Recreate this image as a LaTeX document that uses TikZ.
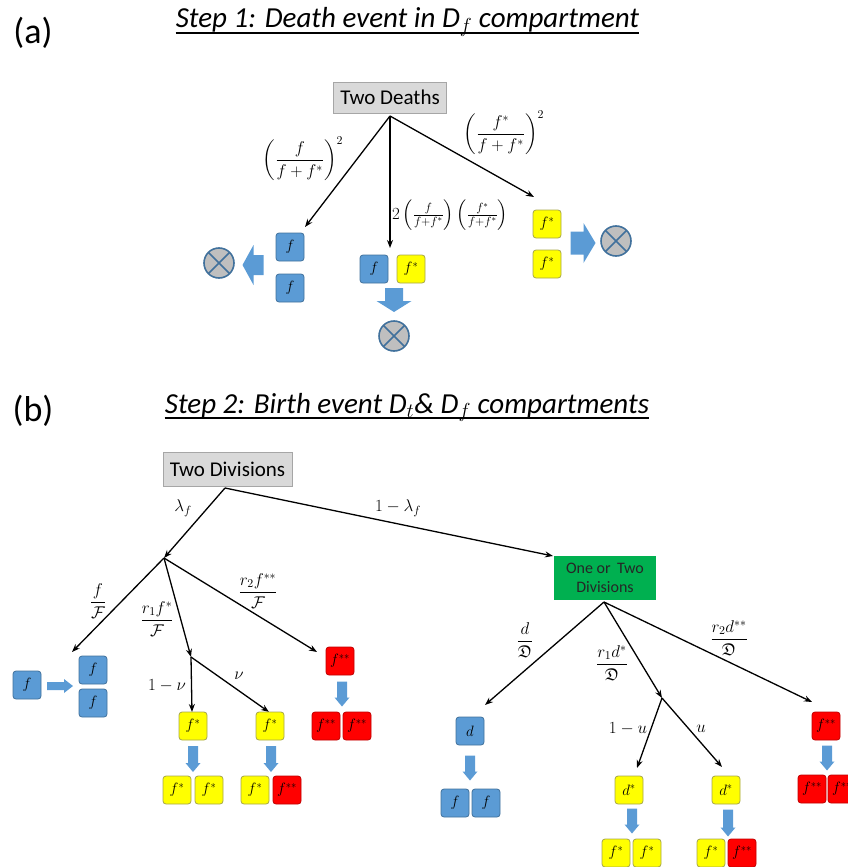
\RequirePackage{fix-cm}
\documentclass[tikz,border=0pt]{standalone}
\usepackage{amssymb}
\usepackage{fontspec}
\setmainfont{Carlito}
\usetikzlibrary{arrows.meta}
\definecolor{cblue}{HTML}{5B9BD5}
\definecolor{cblueB}{HTML}{41719C}
\definecolor{cyel}{HTML}{FFFF00}
\definecolor{cyelB}{HTML}{A6A64A}
\definecolor{cred}{HTML}{FF0000}
\definecolor{credB}{HTML}{C00000}
\definecolor{cgreen}{HTML}{00B050}
\definecolor{cgray}{HTML}{D9D9D9}
\definecolor{cgrayB}{HTML}{A6A6A6}
\definecolor{xgray}{HTML}{BFBFBF}
\newcommand\blockarr[6]{\fill[cblue,shift={(#1)},rotate=#2] (-#3/2,-#5) -- (#3/2-#4,-#5) -- (#3/2-#4,-#6) -- (#3/2,0) -- (#3/2-#4,#6) -- (#3/2-#4,#5) -- (-#3/2,#5) -- cycle;}
\tikzset{
  cell/.style={rounded corners=3pt, minimum width=28pt, minimum height=28pt, inner sep=0pt, line width=0.8pt, font=\fontsize{15}{15}\selectfont},
  bcell/.style={cell, fill=cblue, draw=cblueB},
  ycell/.style={cell, fill=cyel, draw=cyelB},
  rcell/.style={cell, fill=cred, draw=credB},
  killnode/.style={circle, minimum size=30pt, inner sep=0pt, fill=xgray, draw=cblueB, line width=1.6pt,
    path picture={\draw[cblueB, line width=1.6pt] (path picture bounding box.north west) -- (path picture bounding box.south east) (path picture bounding box.north east) -- (path picture bounding box.south west);}},
  branch/.style={line width=1.3pt, -{Stealth[length=8pt,width=6pt]}},
  lab/.style={inner sep=0pt, font=\fontsize{17}{20}\selectfont},
  ttl/.style={inner sep=0pt, font=\fontsize{29}{34}\selectfont\itshape},
  graybox/.style={fill=cgray, draw=cgrayB, line width=0.8pt, inner sep=0pt, font=\fontsize{21}{25}\selectfont},
}
\begin{document}
\begin{tikzpicture}[x=1pt,y=-1pt]
\useasboundingbox (0,0) rectangle (847,867);
% ---------- (a) ----------
\node[inner sep=0pt, font=\fontsize{36}{42}\selectfont] (la) at (33,33) {(a)};
\node[ttl, anchor=base] (t1) at (407.5,28) {Step 1: Death event in D$_f$ compartment};
\draw[line width=1.6pt] ([yshift=-5pt]t1.base west) -- ([yshift=-5pt]t1.base east);

\node[graybox, minimum width=113pt, minimum height=31pt] (TD) at (390,97.5) {Two Deaths};
\coordinate (a0) at (390,116);
\coordinate (aL) at (305,227);
\coordinate (aM) at (390,248);
\coordinate (aR) at (534,197);
\draw[branch] (a0) -- (aL);
\draw[branch] (a0) -- (aM);
\draw[branch] (a0) -- (aR);
\node[lab] (pL) at (303,159) {$\displaystyle\left(\frac{f}{f+f^{*}}\right)^{2}$};
\node[lab] (pR) at (504,133) {$\displaystyle\left(\frac{f^{*}}{f+f^{*}}\right)^{2}$};
\node[lab] (pM) at (450,215) {$2\left(\frac{f}{f+f^{*}}\right)\left(\frac{f^{*}}{f+f^{*}}\right)$};

\node[bcell] (a1) at (290,247) {$f$};
\node[bcell] (a2) at (290,288) {$f$};
\node[bcell] (a3) at (374,269) {$f$};
\node[ycell] (a4) at (411,269) {$f^{*}$};
\node[ycell] (a5) at (547,224) {$f^{*}$};
\node[ycell] (a6) at (547,264) {$f^{*}$};
\blockarr{253,265}{180}{21}{11}{10}{20}
\blockarr{394,300}{-90}{24}{11}{9}{17.5}
\blockarr{583,243}{0}{25}{12}{11.5}{20}
\node[killnode] (c1) at (219,263) {};
\node[killnode] (c2) at (394,336) {};
\node[killnode] (c3) at (616,241) {};

% ---------- (b) ----------
\node[inner sep=0pt, font=\fontsize{36}{42}\selectfont] (lb) at (33,411) {(b)};
\node[ttl, anchor=base] (t2) at (407,413) {Step 2: Birth event D$_t$\& D$_f$ compartments};
\draw[line width=1.6pt] ([yshift=-5pt]t2.base west) -- ([yshift=-5pt]t2.base east);

\node[graybox, minimum width=129pt, minimum height=34pt] (TDv) at (227.5,469) {Two Divisions};
\node[fill=cgreen, inner sep=0pt, minimum width=102pt, minimum height=44pt, align=center,
      font=\fontsize{16}{19}\selectfont, text=black!85] (G) at (605,578) {One or\, Two\\Divisions};
\coordinate (b0) at (225,488);
\coordinate (bL) at (164,558);
\coordinate (gIn) at (553,556);
\draw[branch] (b0) -- (bL);
\draw[branch] (b0) -- (gIn);
\node[lab] (l1) at (183,508) {$\lambda_f$};
\node[lab] (l2) at (398,508) {$1-\lambda_f$};

% left subtree
\coordinate (bLL) at (72,652);
\coordinate (bM) at (191,657);
\coordinate (bR) at (317,652);
\draw[branch] (bL) -- (bLL);
\draw[branch] (bL) -- (bM);
\draw[branch] (bL) -- (bR);
\coordinate (bM1) at (192,712);
\coordinate (bM2) at (269,712);
\draw[branch] (bM) -- (bM1);
\draw[branch] (bM) -- (bM2);
\node[lab] (q1) at (98,601) {$\displaystyle\frac{f}{\mathcal{F}}$};
\node[lab] (q2) at (157,619) {$\displaystyle\frac{r_1f^{*}}{\mathcal{F}}$};
\node[lab] (q3) at (258,591) {$\displaystyle\frac{r_2f^{**}}{\mathcal{F}}$};
\node[lab] (q4) at (167,686) {$1-\nu$};
\node[lab] (q5) at (239,676) {$\nu$};

\node[bcell] (b1) at (27,685) {$f$};
\blockarr{60,686}{0}{26}{9}{4}{7}
\node[bcell] (b2) at (93,670) {$f$};
\node[bcell] (b3) at (93,703) {$f$};
\node[ycell] (b4) at (193,726) {$f^{*}$};
\node[ycell] (b5) at (270,726) {$f^{*}$};
\node[rcell] (b6) at (340,661) {$f^{**}$};
\blockarr{342,694}{-90}{25}{9}{5}{7.5}
\node[rcell] (b7) at (326,726) {$f^{**}$};
\node[rcell] (b8) at (357,726) {$f^{**}$};
\blockarr{193,759}{-90}{26}{9}{5}{7.5}
\blockarr{271,759}{-90}{26}{9}{5}{7.5}
\node[ycell] (b9) at (177,790) {$f^{*}$};
\node[ycell] (b10) at (209,790) {$f^{*}$};
\node[ycell] (b11) at (255,790) {$f^{*}$};
\node[rcell] (b12) at (287,790) {$f^{**}$};

% right subtree
\coordinate (g0) at (604,602);
\coordinate (gL) at (485,705);
\coordinate (gM) at (662,698);
\coordinate (gR) at (812,702);
\draw[branch] (g0) -- (gL);
\draw[branch] (g0) -- (gM);
\draw[branch] (g0) -- (gR);
\coordinate (gM1) at (637,768);
\coordinate (gM2) at (722,767);
\draw[branch] (gM) -- (gM1);
\draw[branch] (gM) -- (gM2);
\node[lab] (s1) at (525,640) {$\displaystyle\frac{d}{\mathfrak{D}}$};
\node[lab] (s2) at (612,663) {$\displaystyle\frac{r_1d^{*}}{\mathfrak{D}}$};
\node[lab] (s3) at (729,638) {$\displaystyle\frac{r_2d^{**}}{\mathfrak{D}}$};
\node[lab] (s4) at (628,729) {$1-u$};
\node[lab] (s5) at (701,729) {$u$};

\node[bcell] (d1) at (470,731) {$d$};
\blockarr{470,768}{-90}{25}{9}{5}{7.5}
\node[bcell] (d2) at (455,803) {$f$};
\node[bcell] (d3) at (486,803) {$f$};
\node[ycell] (d4) at (629,790) {$d^{*}$};
\node[ycell] (d5) at (726,790) {$d^{*}$};
\blockarr{632,821}{-90}{25}{9}{5}{7.5}
\blockarr{728,823}{-90}{27}{9}{5}{7.5}
\node[ycell] (d6) at (616,853) {$f^{*}$};
\node[ycell] (d7) at (647,853) {$f^{*}$};
\node[ycell] (d8) at (711,853) {$f^{*}$};
\node[rcell] (d9) at (742,853) {$f^{**}$};
\node[rcell] (d10) at (826,726) {$f^{**}$};
\blockarr{827,758}{-90}{25}{9}{5}{7.5}
\node[rcell] (d11) at (812,789) {$f^{**}$};
\node[rcell] (d12) at (842,789) {$f^{**}$};
\end{tikzpicture}
\end{document}
